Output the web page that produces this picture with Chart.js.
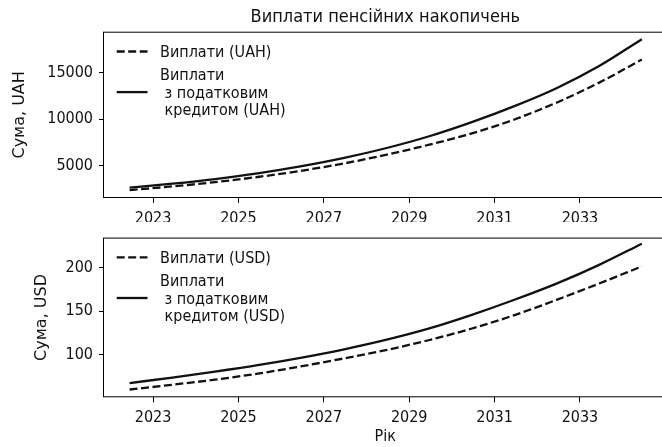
<!DOCTYPE html>
<html>
<head>
<meta charset="utf-8">
<script src="https://cdn.jsdelivr.net/npm/chart.js@4.4.0/dist/chart.umd.min.js"></script>
<style>
  body { margin: 0; background: #fff; overflow: hidden; width: 662px; height: 447px; }
  .box { position: absolute; left: 0; width: 680px; }
  #top { top: 0; height: 222px; }
  #bottom { top: 222px; height: 225px; }
</style>
</head>
<body>
<div class="box" id="top"><canvas id="chartUah" width="680" height="222"></canvas></div>
<div class="box" id="bottom"><canvas id="chartUsd" width="680" height="225"></canvas></div>
<script>
'use strict';

// values, one point per year (mid-year)
let years = [2022.45, 2023.45, 2024.45, 2025.45, 2026.45, 2027.45, 2028.45,
             2029.45, 2030.45, 2031.45, 2032.45, 2033.45, 2034.45];
let payUah       = [2330, 2730, 3195, 3750, 4410, 5195, 6140, 7220, 8440, 9940, 11780, 13950, 16440];
let payUahCredit = [2590, 3025, 3530, 4140, 4890, 5785, 6855, 8125, 9650, 11380, 13345, 15740, 18640];
let payUsd       = [59.5, 65.0, 70.9, 77.8, 86.1, 95.2, 105.0, 116.4, 129.7, 145.2, 163.0, 182.0, 201.7];
let payUsdCredit = [67.0, 73.2, 80.1, 87.6, 96.1, 105.7, 116.8, 129.8, 145.5, 162.9, 181.8, 203.5, 228.0];

let yearTicks = [2023, 2025, 2027, 2029, 2031, 2033];
let uahTicks = [5000, 10000, 15000];
let usdTicks = [100, 150, 200];

let mainTitle = 'Виплати пенсійних накопичень';
let labelsUah = ['Виплати (UAH)', 'Виплати\n з податковим\n кредитом (UAH)'];
let labelsUsd = ['Виплати (USD)', 'Виплати\n з податковим\n кредитом (USD)'];

const hFont = '"DejaVu Sans Condensed", "DejaVu Sans", sans-serif';

function points(xs, ys) {
	return xs.map(function(x, i) { return {x: x, y: ys[i]}; });
}

// black box round the plot area, like the matplotlib spines
const framePlugin = {
	id: 'frame',
	afterDatasetsDraw(chart) {
		const ctx = chart.ctx;
		const a = chart.chartArea;
		ctx.save();
		ctx.strokeStyle = '#000';
		ctx.lineWidth = 1;
		ctx.strokeRect(a.left - 0.5, a.top + 0.5, a.right - a.left, a.bottom - a.top - 1);
		ctx.restore();
	}
};

// legend inside the plot, upper left, multi-line labels
const legendPlugin = {
	id: 'mplLegend',
	afterDraw(chart) {
		const ctx = chart.ctx;
		const a = chart.chartArea;
		const lh = 17.7;
		let rowY = a.top + 21.3;
		ctx.save();
		ctx.font = '16px ' + hFont;
		ctx.fillStyle = '#111';
		ctx.textBaseline = 'middle';
		chart.data.datasets.forEach(function(ds) {
			let lines = ds.label.split('\n');
			let midY = rowY + (lines.length - 1) * lh / 2 - 1.5;
			ctx.strokeStyle = ds.borderColor;
			ctx.lineWidth = ds.borderWidth;
			ctx.setLineDash(ds.borderDash || []);
			ctx.beginPath();
			ctx.moveTo(a.left + 12.7, midY);
			ctx.lineTo(a.left + 43.5, midY);
			ctx.stroke();
			ctx.setLineDash([]);
			lines.forEach(function(t, i) {
				ctx.fillText(t, a.left + 56, rowY + i * lh);
			});
			rowY += lines.length * lh + 5.2;
		});
		ctx.restore();
	}
};

const titlePlugin = {
	id: 'axTitle',
	afterDraw(chart) {
		const t = chart.options.plugins.axTitle;
		if (!t || !t.text) return;
		const ctx = chart.ctx;
		const a = chart.chartArea;
		ctx.save();
		ctx.font = '18px ' + hFont;
		ctx.fillStyle = '#111';
		ctx.textAlign = 'center';
		ctx.textBaseline = 'middle';
		ctx.fillText(t.text, (a.left + a.right) / 2, 17);
		ctx.restore();
	}
};

function makeChart(canvasId, dashed, solid, labels, opts) {
	let ctx = document.getElementById(canvasId).getContext('2d');
	return new Chart(ctx, {
		type: 'line',
		data: {
			datasets: [{
				label: labels[0],
				data: points(years, dashed),
				borderColor: '#111',
				borderWidth: 2.3,
				borderDash: [8, 3.5],
				pointRadius: 0,
				cubicInterpolationMode: 'monotone',
				fill: false
			}, {
				label: labels[1],
				data: points(years, solid),
				borderColor: '#111',
				borderWidth: 2.3,
				pointRadius: 0,
				cubicInterpolationMode: 'monotone',
				fill: false
			}]
		},
		options: {
			responsive: false,
			animation: false,
			layout: { padding: { top: opts.padTop, right: 13.4, left: 0, bottom: 0 } },
			plugins: {
				legend: { display: false },
				tooltip: { enabled: false },
				axTitle: { text: opts.title }
			},
			scales: {
				x: {
					type: 'linear',
					min: 2021.85,
					max: 2035.03,
					afterBuildTicks: function(scale) {
						scale.ticks = yearTicks.map(function(v) { return {value: v}; });
					},
					afterFit: function(scale) { scale.height = opts.xHeight; },
					grid: { drawOnChartArea: false, drawTicks: true, tickLength: 5, tickColor: '#000' },
					border: { display: false },
					ticks: {
						color: '#111',
						padding: 6,
						maxRotation: 0,
						font: { family: hFont, size: 16 },
						callback: function(v) { return String(v); }
					},
					title: {
						display: !!opts.xTitle,
						text: opts.xTitle || '',
						color: '#111',
						font: { family: hFont, size: 16 },
						padding: { top: 0, bottom: 1 }
					}
				},
				y: {
					min: opts.yMin,
					max: opts.yMax,
					afterBuildTicks: function(scale) {
						scale.ticks = opts.yTicks.map(function(v) { return {value: v}; });
					},
					afterFit: function(scale) { scale.width = 104; },
					grid: { drawOnChartArea: false, drawTicks: true, tickLength: 5, tickColor: '#000' },
					border: { display: false },
					ticks: {
						color: '#111',
						padding: 6,
						font: { family: hFont, size: 16 },
						callback: function(v) { return String(v); }
					},
					title: {
						display: true,
						text: opts.yTitle,
						color: '#111',
						font: { family: '"DejaVu Sans", sans-serif', size: 16 },
						padding: { top: opts.yTitlePad, bottom: 0 }
					}
				}
			}
		},
		plugins: [framePlugin, legendPlugin, titlePlugin]
	});
}

makeChart('chartUah', payUah, payUahCredit, labelsUah, {
	padTop: 31.7, xHeight: 24, yMin: 1480, yMax: 19450, yTicks: uahTicks,
	yTitle: 'Сума, UAH', yTitlePad: 10.5, title: mainTitle
});

makeChart('chartUsd', payUsd, payUsdCredit, labelsUsd, {
	padTop: 9.7, xHeight: 49.7, yMin: 50.5, yMax: 235, yTicks: usdTicks,
	yTitle: 'Сума, USD', yTitlePad: 32, xTitle: 'Рік'
});
</script>
</body>
</html>
